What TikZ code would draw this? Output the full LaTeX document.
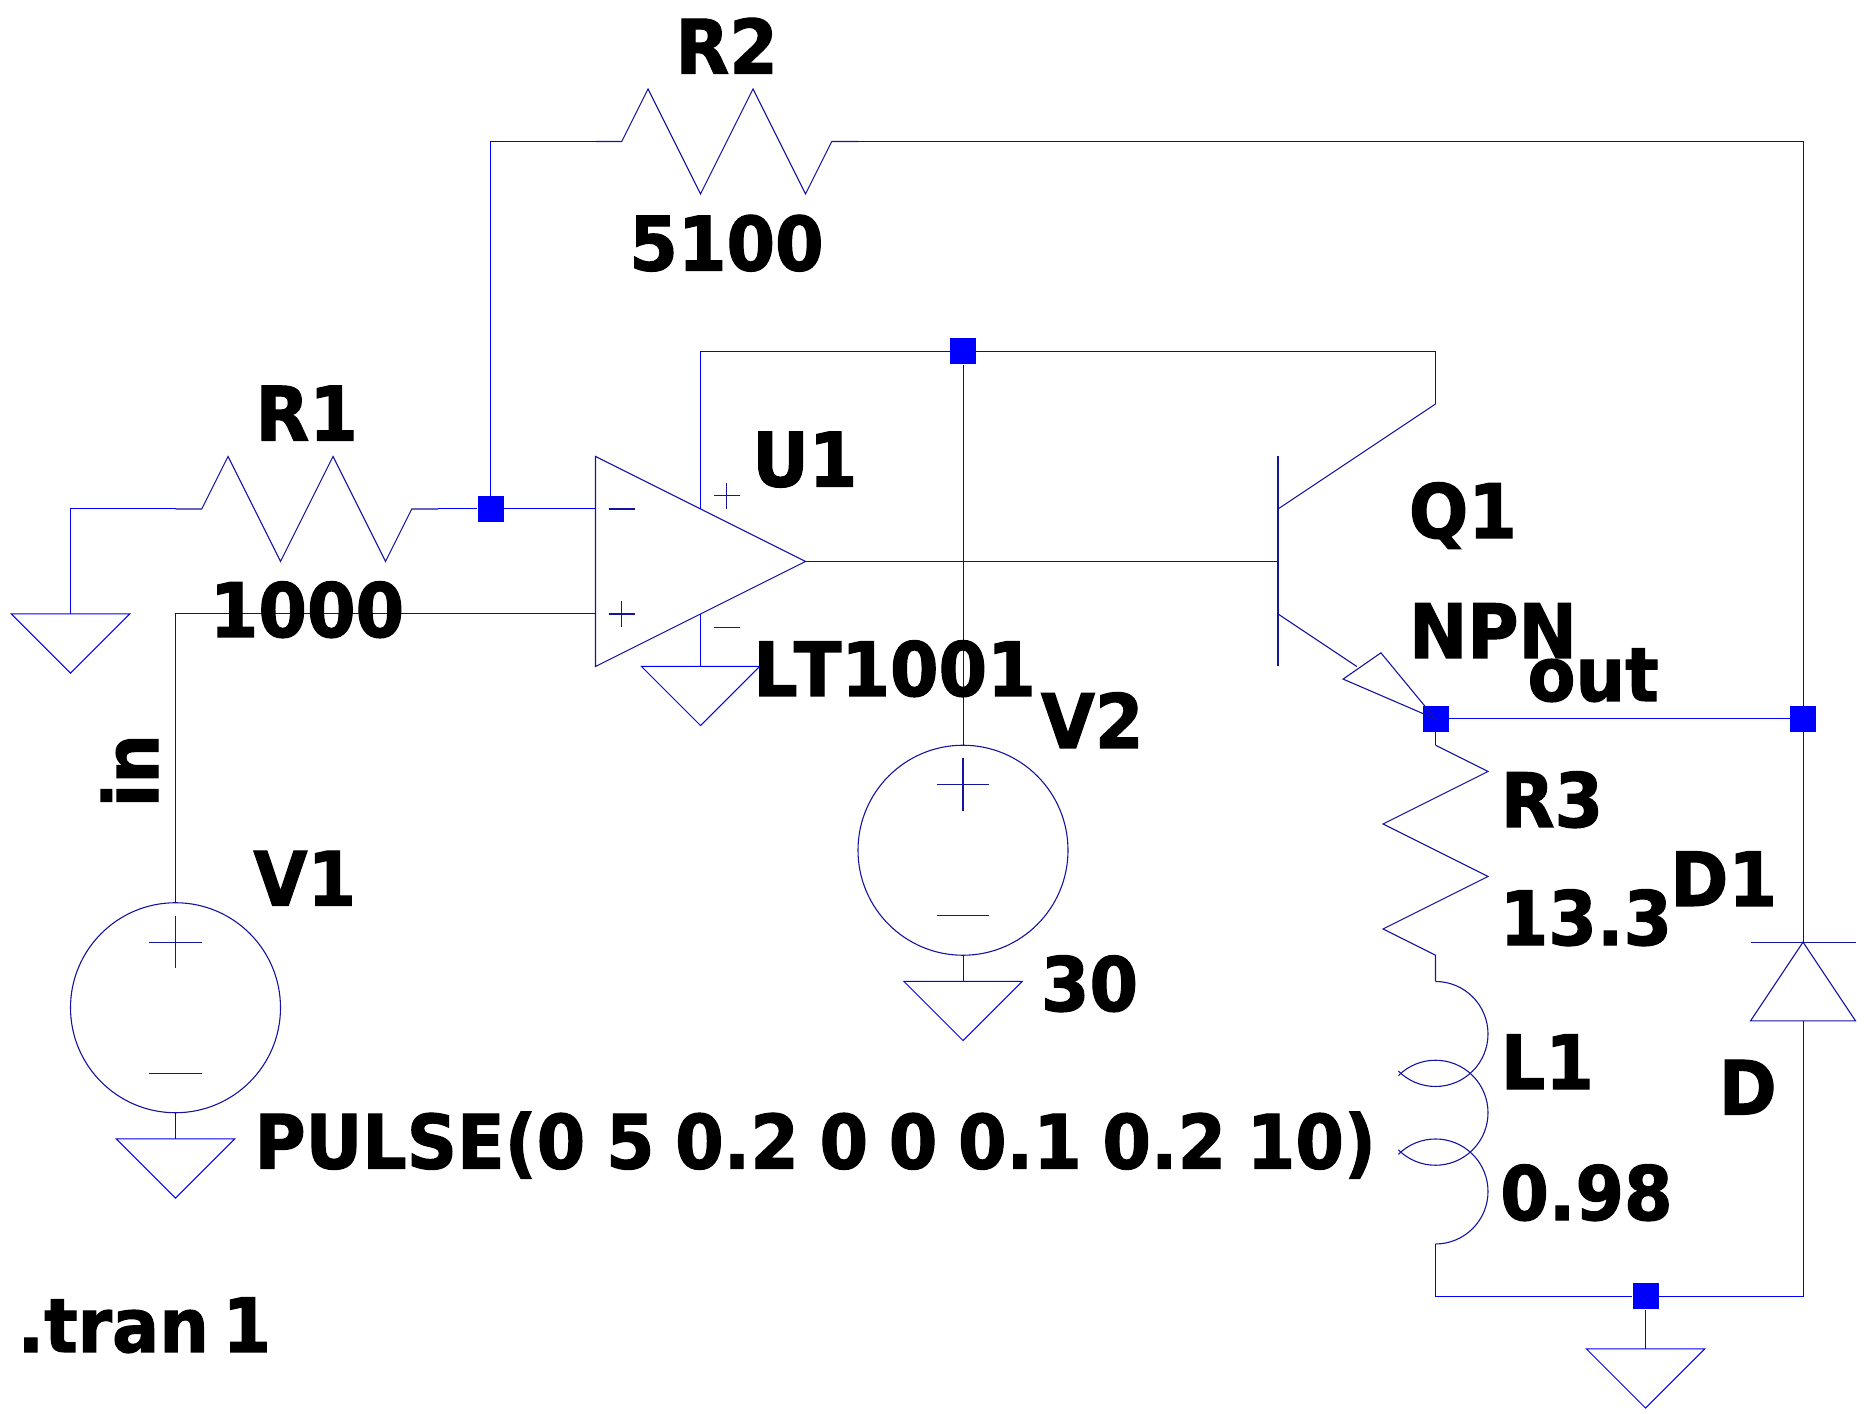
\documentclass[tikz,border=0pt]{standalone}
\usepackage{fontspec}
\setmainfont{DejaVu Sans Condensed}[BoldFont={* Bold},BoldFeatures={FakeStretch=1.035,FakeBold=1.5,WordSpace=0.85}]
\usetikzlibrary{positioning}
\definecolor{wirecol}{RGB}{0,0,255}
\definecolor{symcol}{RGB}{20,20,160}
\tikzset{
    wire/.style={draw=wirecol,line width=1pt},
    sym/.style={draw=symcol,line width=1.1pt,line join=miter},
    flag/.style={draw=wirecol,line width=1pt},
    junction/.style={shape=rectangle,fill=wirecol,draw=none,minimum size=26pt,inner sep=0pt},
    lbl/.style={anchor=base west,inner sep=0pt,font=\fontsize{75}{75}\selectfont\bfseries},
}
\begin{document}
\begin{tikzpicture}[x=52.5pt,y=52.5pt]
		\useasboundingbox (-1.343,2.695) rectangle (34.2,-24.238);
		% junctions
		\node[junction] (Jinv) at (8,-7) {};
		\node[junction] (Jvcc) at (17,-4) {};
		\node[junction] (Jemit) at (26,-11) {};
		\node[junction] (Jout) at (33,-11) {};
		\node[junction] (Jgnd) at (30,-22) {};
		% pins
		\coordinate (R1a) at (2,-7);
		\coordinate (R1b) at (7,-7);
		\coordinate (R2a) at (10,0);
		\coordinate (R2b) at (15,0);
		\coordinate (R3a) at (26,-11.5);
		\coordinate (R3b) at (26,-16);
		\coordinate (L1b) at (26,-21);
		\coordinate (Uinv) at (10,-7);
		\coordinate (Unon) at (10,-9);
		\coordinate (Uout) at (14,-8);
		\coordinate (Uvp) at (12,-7);
		\coordinate (Uvn) at (12,-9);
		\coordinate (Qb) at (23,-8);
		\coordinate (Qc) at (26,-5);
		\coordinate (V1p) at (2,-14.5);
		\coordinate (V1n) at (2,-18.5);
		\coordinate (V2p) at (17,-11.5);
		\coordinate (V2n) at (17,-15.5);
		\coordinate (Dk) at (33,-15.25);
		\coordinate (Da) at (33,-16.75);
		\coordinate (G1) at (0,-9);
		\coordinate (G2) at (12,-10);
		\coordinate (G3) at (2,-19);
		\coordinate (G4) at (17,-16);
		\coordinate (G5) at (30,-23);
		% grounds
		\foreach \g in {G1,G2,G3,G4,G5}
			\path[flag] (\g) ++(-1.125,0) -- ++(1.125,-1.125) -- ++(1.125,1.125) -- cycle;
		% resistors
		\path[sym] (R1a) -- ++(0.5,0) -- ++(0.5,1) -- ++(1,-2) -- ++(1,2) -- ++(1,-2) -- ++(0.5,1) -- (R1b);
		\path[sym] (R2a) -- ++(0.5,0) -- ++(0.5,1) -- ++(1,-2) -- ++(1,2) -- ++(1,-2) -- ++(0.5,1) -- (R2b);
		\path[sym] (R3a) -- ++(1,-0.5) -- ++(-2,-1) -- ++(2,-1) -- ++(-2,-1) -- ++(1,-0.5) -- (R3b);
		% inductor
		\path[sym] (R3b) arc[start angle=90,end angle=-135,radius=1];
		\path[sym] (26,-18.5) ++(135:1) arc[start angle=135,end angle=-135,radius=1];
		\path[sym] (26,-20) ++(135:1) arc[start angle=135,end angle=-90,radius=1];
		% opamp
		\path[sym] (10,-6) -- (Uout) -- (10,-10) -- cycle;
		\path[sym] (10.25,-7) -- (10.75,-7);
		\path[sym] (10.25,-9) -- (10.75,-9);
		\path[sym] (10.5,-8.75) -- (10.5,-9.25);
		\path[sym] (12.25,-6.75) -- (12.75,-6.75);
		\path[sym] (12.5,-6.5) -- (12.5,-7);
		\path[sym] (12.25,-9.25) -- (12.75,-9.25);
		% transistor
		\path[sym] (23,-6) -- (23,-10);
		\path[sym] (23,-7) -- (Qc);
		\path[sym] (23,-9) -- (24.5,-10);
		\path[sym] (24.96,-9.74) -- (24.24,-10.24) -- (Jemit.center) -- cycle;
		% sources
		\path[sym] (2,-16.5) circle[radius=2];
		\path[sym] (1.5,-15.25) -- (2.5,-15.25);
		\path[sym] (2,-14.75) -- (2,-15.75);
		\path[sym] (1.5,-17.75) -- (2.5,-17.75);
		\path[sym] (17,-13.5) circle[radius=2];
		\path[sym] (16.5,-12.25) -- (17.5,-12.25);
		\path[sym] (17,-11.75) -- (17,-12.75);
		\path[sym] (16.5,-14.75) -- (17.5,-14.75);
		% diode
		\path[sym] (32,-15.25) -- (34,-15.25);
		\path[sym] (Dk) -- (34,-16.75) -- (32,-16.75) -- cycle;
		% wires
		\path[wire] (G1) |- (R1a);
		\path[wire] (R1b) -- (Jinv);
		\path[wire] (Jinv) -- (Uinv);
		\path[wire] (Jinv) |- (R2a);
		\path[wire] (R2b) -| (Jout);
		\path[wire] (Unon) -| (V1p);
		\path[wire] (V1n) -- (G3);
		\path[wire] (Uvp) |- (Jvcc);
		\path[wire] (Jvcc) -| (Qc);
		\path[wire] (Jvcc) -- (V2p);
		\path[wire] (V2n) -- (G4);
		\path[wire] (Uvn) -- (G2);
		\path[wire] (Uout) -- (Qb);
		\path[wire] (Jemit) -- (Jout);
		\path[wire] (Jemit) -- (R3a);
		\path[wire] (Jout) -- (Dk);
		\path[wire] (Da) |- (Jgnd);
		\path[wire] (L1b) |- (Jgnd);
		\path[wire] (Jgnd) -- (G5);
		% labels
		\node[lbl] (R2name) at (11.52,1.295) {R2};
		\node[lbl] (R2val) at (10.64,-2.457) {5100};
		\node[lbl] (R1name) at (3.52,-5.695) {R1};
		\node[lbl] (R1val) at (2.65,-9.438) {1000};
		\node[lbl] (U1name) at (12.98,-6.571) {U1};
		\node[lbl] (U1val) at (13.0,-10.562) {L\kern-4pt T1001};
		\node[lbl] (V2name) at (18.48,-11.552) {V2};
		\node[lbl] (V2val) at (18.48,-16.562) {30};
		\node[lbl] (V1name) at (3.48,-14.554) {V1};
		\node[lbl] (V1val) at (3.50,-19.564) {PULSE(0 5 0.2 0 0 0.1 0.2 10)};
		\node[lbl] (Q1name) at (25.49,-7.552) {Q1};
		\node[lbl] (Q1val) at (25.49,-9.838) {NPN};
		\node[lbl] (outlbl) at (27.75,-10.657) {out};
		\node[lbl] (R3name) at (27.24,-13.057) {R3};
		\node[lbl] (R3val) at (27.22,-15.305) {13.3};
		\node[lbl] (D1name) at (30.47,-14.562) {D1};
		\node[lbl] (D1val) at (31.39,-18.535) {D};
		\node[lbl] (L1name) at (27.24,-18.048) {L1};
		\node[lbl] (L1val) at (27.23,-20.543) {0.98};
		\node[lbl] (tran) at (-1.01,-23.057) {.tran\kern-7pt\ 1};
		\node[lbl,rotate=90] (inlbl) at (1.667,-12.69) {in};
\end{tikzpicture}
\end{document}
